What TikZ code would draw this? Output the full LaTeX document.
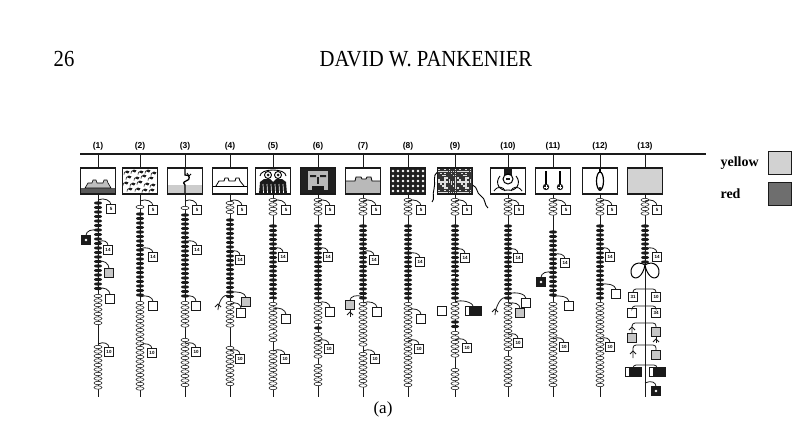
\documentclass[tikz,border=0pt]{standalone}
\usepackage{fontspec}
\setmainfont{Liberation Serif}
\setsansfont{Liberation Sans}
\usepackage{xcolor}
\definecolor{inkDark}{HTML}{1A1A1A}
\definecolor{yellowTone}{HTML}{D2D2D2}
\definecolor{redTone}{HTML}{6E6E6E}
\usepackage{tikz}
\usetikzlibrary{positioning,calc}
\tikzset{%
  cordLine/.style={%
    line width=1pt,
    draw=inkDark
  },
  knotD/.style={%
    fill=inkDark
  },
  knotL/.style={%
    draw=inkDark,
    fill=white,
    line width=0.55pt
  },
  picBox/.style={%
    rectangle,
    draw=inkDark,
    line width=1.1pt,
    minimum width=35pt,
    minimum height=26pt,
    inner sep=0pt
  },
  colLabel/.style={%
    font=\sffamily\bfseries\fontsize{8.5}{9}\selectfont,
    inner sep=1pt
  },
  numTag/.style={%
    rectangle,
    draw=inkDark,
    fill=white,
    line width=0.9pt,
    minimum size=8.5pt,
    inner sep=0pt,
    font=\sffamily\bfseries\fontsize{4.5}{5}\selectfont
  },
  plainTag/.style={numTag},
  grayTag/.style={numTag, fill=gray!45},
  blackTag/.style={%
    numTag,
    fill=inkDark,
    path picture={\fill[white] (path picture bounding box.center) circle (1.4pt);}
  },
  barTag/.style={%
    rectangle,
    draw=inkDark,
    fill=white,
    line width=0.9pt,
    minimum width=16pt,
    minimum height=8.5pt,
    inner sep=0pt,
    path picture={\fill[inkDark] ([xshift=4pt]path picture bounding box.south west) rectangle (path picture bounding box.north east);}
  },
  hookLine/.style={%
    line width=0.8pt,
    draw=inkDark
  },
  bracketLine/.style={%
    draw=inkDark,
    line width=0.8pt,
    double=white,
    double distance=1.3pt
  },
  legendText/.style={%
    font=\bfseries\fontsize{14}{16}\selectfont,
    inner sep=0pt
  },
  swatch/.style={%
    rectangle,
    draw=inkDark,
    line width=1.3pt,
    minimum size=23pt,
    inner sep=0pt
  }
}
\newcommand{\knotrun}[4]{%
  \foreach \i in {1,...,#3}{\path[#4] (#1,{#2+(\i-1)*4.5}) ellipse (4 and 1.7);}}
\newcommand{\forkmark}[2]{%
  \draw[hookLine] (#1-3,#2+3) -- (#1,#2) -- (#1+3,#2+3);}

\begin{document}
\begin{tikzpicture}[x=1pt,y=-1pt]
\useasboundingbox (0,0) rectangle (800,428);

% running head and caption
\node[font=\fontsize{23}{26}\selectfont, xscale=0.9] (pageNo) at (64,59) {26};
\node[font=\fontsize{23}{26}\selectfont, xscale=0.9] (runHead) at (426,59) {DAVID W. PANKENIER};
\node[font=\fontsize{17}{20}\selectfont] (caption) at (383,409) {(a)};

% main cord
\coordinate (barL) at (80,154);
\coordinate (barR) at (706,154);
\draw[line width=1.4pt, inkDark] (barL) -- (barR);

% pictures in the boxes
\begin{scope}[shift={(98,181)}]
  \fill[gray!70!black] (-17.5,7) rectangle (17.5,13);
  \draw[fill=gray!50, line width=0.6pt] (-13,7) -- (-10,2) -- (-6,2) -- (-5,-1) -- (-2,-1) -- (-1,2) -- (5,2) -- (6,-1) -- (9,-1) -- (10,2) -- (13,7) -- cycle;
\end{scope}
\begin{scope}[shift={(140,181)}]
  \foreach \a/\b in {-13/-9,-6/-10,1/-9,8/-10,14/-8,-11/-4,-3/-3,4/-5,11/-3,-14/2,-7/3,0/1,7/3,13/4,-10/8,-2/8,5/9,12/9}{
    \fill[inkDark] (\a-2.5,\b) -- (\a,\b-1.5) -- (\a+2.5,\b-0.5) -- (\a+1,\b+1.5) -- cycle;
    \draw[inkDark, line width=0.6pt] (\a-2.5,\b) -- (\a-3,\b+2.5);}
\end{scope}
\begin{scope}[shift={(185,181)}]
  \fill[gray!40] (-17.5,4) rectangle (17.5,13);
  \draw[line width=1.3pt] (0,-13) -- (0,-6) .. controls (5,-7) and (6,-1) .. (1,0) .. controls (-2,1) and (-2,3) .. (0,4) -- (0,13);
  \draw[line width=0.9pt] (2,-8) -- (4,-5) -- (6,-7);
\end{scope}
\begin{scope}[shift={(230,181)}]
  \draw[line width=0.8pt] (-17.5,5) -- (17.5,5);
  \draw[line width=0.8pt] (-14,5) -- (-11,0) -- (-6,0) -- (-5,-3) -- (-2,-3) -- (-1,0) -- (5,0) -- (6,-3) -- (9,-3) -- (10,0) -- (14,5);
\end{scope}
\begin{scope}[shift={(273,181)}]
  \fill[inkDark] (-14,13) -- (-13,1) -- (-9,-2) -- (-3,-2) -- (0,1) -- (3,-2) -- (9,-2) -- (13,1) -- (14,13) -- cycle;
  \foreach \s in {-10,-6,-2,2,6,10} \draw[white, line width=0.7pt] (\s,3) -- (\s+0.5,12);
  \draw[line width=0.9pt] (-13,-5) .. controls (-13,-13) and (13,-13) .. (13,-5);
  \foreach \s in {-5,5}{\draw[line width=0.9pt, fill=white] (\s,-6) circle (3.5); \fill[inkDark] (\s,-6) circle (1.5);}
\end{scope}
\begin{scope}[shift={(318,181)}]
  \fill[gray!25!black] (-17.5,-13) rectangle (17.5,13);
  \fill[gray!55] (-10,-10) rectangle (10,9);
  \fill[gray!25!black] (-8,-6) rectangle (-2,-4) (2,-6) rectangle (8,-4);
  \fill[gray!25!black] (-1,-4) rectangle (1,3);
  \fill[inkDark] (-6,5) rectangle (6,9);
\end{scope}
\begin{scope}[shift={(363,181)}]
  \fill[gray!55] (-17.5,0) -- (-8,0) -- (-7,-4) -- (-2,-4) -- (-1,-2) -- (3,-2) -- (4,-4) -- (8,-4) -- (9,0) -- (17.5,0) -- (17.5,13) -- (-17.5,13) -- cycle;
  \draw[line width=0.8pt] (-17.5,0) -- (-8,0) -- (-7,-4) -- (-2,-4) -- (-1,-2) -- (3,-2) -- (4,-4) -- (8,-4) -- (9,0) -- (17.5,0);
\end{scope}
\begin{scope}[shift={(408,181)}]
  \fill[gray!25!black] (-17.5,-13) rectangle (17.5,13);
  \foreach \i in {0,...,6}{\foreach \j in {0,...,4}{\fill[white] (-15+\i*5,-10+\j*5) circle (1.3);}}
\end{scope}
\begin{scope}[shift={(455,181)}]
  \fill[black!80] (-17.5,-13) rectangle (17.5,13);
  \foreach \i in {0,...,15}{\foreach \j in {0,...,11}{%
    \pgfmathtruncatemacro\r{mod(\i*7+\j*11+\i*\j*3,5)}%
    \ifnum\r<2 \fill[gray!25] (-17+\i*2.1,-12.5+\j*2.1) rectangle ++(1.6,1.6);\fi}}
  \draw[line width=0.9pt] (-17.5,-9) .. controls (-23,-6) and (-19,2) .. (-21,8) .. controls (-23,14) and (-20,18) .. (-23,21);
  \draw[line width=0.9pt] (17.5,4) .. controls (23,6) and (21,12) .. (26,15) .. controls (31,18) and (29,24) .. (33,27);
\end{scope}
\begin{scope}[shift={(508,181)}]
  \fill[inkDark] (-4,-13) rectangle (4,-6);
  \draw[line width=1pt] (0,-2) circle (5);
  \fill[inkDark] (-2,-3) rectangle (2,-1);
  \draw[line width=0.9pt] (-8,-5) .. controls (-14,2) and (-8,11) .. (0,9) .. controls (8,11) and (14,2) .. (8,-5);
  \draw[line width=0.8pt] (-14,10) .. controls (-10,4) and (-4,6) .. (-3,10);
  \draw[line width=0.8pt] (14,10) .. controls (10,4) and (4,6) .. (3,10);
\end{scope}
\begin{scope}[shift={(553,181)}]
  \foreach \s in {-7,7}{%
    \draw[line width=1.8pt] (\s,-10) -- (\s,4);
    \fill[inkDark] (\s,6) circle (3.2);
    \draw[white, line width=0.6pt] (\s-2,6) -- (\s+2,6) (\s,4) -- (\s,8);}
\end{scope}
\begin{scope}[shift={(600,181)}]
  \draw[line width=1.2pt] (0,-13) -- (0,-9);
  \draw[line width=1.2pt] (0,0) ellipse (3.5 and 9);
  \fill[inkDark] (0,8) circle (2);
\end{scope}
\begin{scope}[shift={(645,181)}]
  \fill[gray!35] (-17.5,-13) rectangle (17.5,13);
\end{scope}

% boxes, labels and pendant cords
\foreach \n/\cx in {1/98,2/140,3/185,4/230,5/273,6/318,7/363,8/408,9/455,10/508,11/553,12/600,13/645}{
  \node[picBox] (box\n) at (\cx,181) {};
  \node[colLabel] (lab\n) at (\cx,146) {(\n)};
  \coordinate (end\n) at (\cx,397);
  \draw[cordLine] (box\n.north) -- (box\n.north |- barL);
  \draw[cordLine] (box\n.south) -- (end\n);
}

% knots
\foreach \cx/\ya/\k/\s in {
  98/203/20/knotD, 98/296/7/knotL, 98/347/10/knotL,
  140/207/1/knotL, 140/214/19/knotD, 140/303/20/knotL,
  185/208/1/knotL, 185/215/19/knotD, 185/303/6/knotL, 185/340/11/knotL,
  230/203/3/knotL, 230/220/18/knotD, 230/303/6/knotL, 230/348/9/knotL,
  273/200/4/knotL, 273/226/17/knotD, 273/304/9/knotL, 273/352/9/knotL,
  318/200/4/knotL, 318/226/17/knotD, 318/304/5/knotL, 318/328/1/knotD, 318/334/6/knotL, 318/366/5/knotL,
  363/200/4/knotL, 363/226/17/knotD, 363/304/10/knotL, 363/354/8/knotL,
  408/200/4/knotL, 408/226/17/knotD, 408/304/19/knotL,
  455/200/4/knotL, 455/226/17/knotD, 455/304/4/knotL, 455/322/2/knotD, 455/333/6/knotL, 455/370/5/knotL,
  508/200/4/knotL, 508/226/17/knotD, 508/304/11/knotL, 508/358/7/knotL,
  553/200/4/knotL, 553/232/15/knotD, 553/304/19/knotL,
  600/200/4/knotL, 600/226/17/knotD, 600/304/19/knotL,
  645/200/4/knotL, 645/226/9/knotD}
  {\knotrun{\cx}{\ya}{\k}{\s}}

% number tags
\foreach \n/\cx/\tx/\ty/\mx/\my in {1/98/111/209/108/250, 2/140/153/210/153/257, 3/185/197/210/197/250,
  4/230/242/210/240/260, 5/273/286/210/283/257, 6/318/330/210/328/257, 7/363/376/210/374/260,
  8/408/421/210/420/262, 9/455/467/210/465/258, 10/508/519/210/518/258, 11/553/566/210/565/263,
  12/600/612/210/610/257, 13/645/657/210/657/257}{
  \coordinate (topA\n) at (\cx,\ty-9);
  \coordinate (midA\n) at (\cx,\my-8);
  \draw[hookLine] (topA\n) .. controls +(6,-3) and +(0,-4) .. (\tx,\ty-4.25);
  \draw[hookLine] (midA\n) .. controls +(6,-3) and +(0,-4) .. (\mx,\my-4.25);
  \node[numTag] (topT\n) at (\tx,\ty) {5};
  \node[numTag] (midT\n) at (\mx,\my) {14};
}
\foreach \n/\cx/\bx/\by in {1/98/109/352, 2/140/152/353, 3/185/196/352, 4/230/240/359, 5/273/285/359,
  6/318/329/349, 7/363/375/359, 8/408/419/349, 9/455/467/348, 10/508/518/343, 11/553/564/347, 12/600/610/347}{
  \coordinate (botA\n) at (\cx,\by-8);
  \draw[hookLine] (botA\n) .. controls +(6,-3) and +(0,-4) .. (\bx,\by-4.25);
  \node[numTag] (botT\n) at (\bx,\by) {10};
}

% other pendants
\node[blackTag] (k1) at (86,240) {};
\coordinate (kA1) at (98,231);
\draw[hookLine] (kA1) .. controls +(-6,-3) and +(0,-4) .. (k1.north);
\node[grayTag] (g1) at (109,273) {};
\coordinate (gA1) at (98,262);
\draw[hookLine] (gA1) .. controls +(6,-3) and +(0,-4) .. (g1.north);
\node[plainTag] (w1) at (110,299) {};
\coordinate (wA1) at (98,289);
\draw[hookLine] (wA1) .. controls +(6,-3) and +(0,-4) .. (w1.north);

\node[plainTag] (w2) at (153,306) {};
\coordinate (wA2) at (140,297);
\draw[hookLine] (wA2) .. controls +(6,-3) and +(0,-4) .. (w2.north);
\node[plainTag] (w3) at (196,306) {};
\coordinate (wA3) at (185,297);
\draw[hookLine] (wA3) .. controls +(6,-3) and +(0,-4) .. (w3.north);

\node[grayTag] (g4) at (246,302) {};
\coordinate (gA4) at (230,293);
\draw[hookLine] (gA4) .. controls +(6,-3) and +(0,-4) .. (g4.north);
\node[plainTag] (w4) at (241,313) {};
\coordinate (wA4) at (230,304);
\draw[hookLine] (wA4) .. controls +(6,-3) and +(0,-4) .. (w4.north);
\coordinate (fA4) at (230,296);
\coordinate (f4) at (218,310);
\draw[hookLine] (fA4) .. controls +(-8,-4) and +(0,-5) .. (f4);
\forkmark{218}{304}

\coordinate (brA5) at (273,300);
\coordinate (brB5) at (273,332);
\draw[bracketLine] (brA5) -| (258,316) |- (brB5);
\node[plainTag] (w5) at (286,319) {};
\coordinate (wA5) at (273,309);
\draw[hookLine] (wA5) .. controls +(6,-3) and +(0,-4) .. (w5.north);

\node[plainTag] (w6) at (330,312) {};
\coordinate (wA6) at (318,303);
\draw[hookLine] (wA6) .. controls +(6,-3) and +(0,-4) .. (w6.north);

\node[grayTag] (g7) at (350,305) {};
\coordinate (gA7) at (363,297);
\draw[hookLine] (gA7) .. controls +(-6,-3) and +(0,-4) .. (g7.north);
\coordinate (f7) at (350,317);
\draw[hookLine] (g7.south) -- (f7);
\forkmark{350}{312}
\node[plainTag] (w7) at (377,312) {};
\coordinate (wA7) at (363,303);
\draw[hookLine] (wA7) .. controls +(6,-3) and +(0,-4) .. (w7.north);

\node[plainTag] (w8) at (421,319) {};
\coordinate (wA8) at (408,310);
\draw[hookLine] (wA8) .. controls +(6,-3) and +(0,-4) .. (w8.north);

\node[plainTag] (w9) at (442,311) {};
\coordinate (brA9) at (455,277);
\draw[bracketLine] (brA9) -| (w9.north);
\node[barTag] (bar9) at (473,311) {};
\coordinate (bA9) at (455,302);
\draw[hookLine] (bA9) .. controls +(6,-3) and +(0,-4) .. (bar9.north);

\node[plainTag] (w10) at (526,303) {};
\coordinate (wA10) at (508,294);
\draw[hookLine] (wA10) .. controls +(8,-3) and +(0,-4) .. (w10.north);
\node[grayTag] (g10) at (520,313) {};
\coordinate (gA10) at (508,304);
\draw[hookLine] (gA10) .. controls +(6,-3) and +(0,-4) .. (g10.north);
\coordinate (fA10) at (508,298);
\coordinate (f10) at (495,315);
\draw[hookLine] (fA10) .. controls +(-8,-4) and +(0,-5) .. (f10);
\forkmark{495}{309}

\node[blackTag] (k11) at (541,282) {};
\coordinate (kA11) at (553,273);
\draw[hookLine] (kA11) .. controls +(-6,-3) and +(0,-4) .. (k11.north);
\node[plainTag] (w11) at (569,306) {};
\coordinate (wA11) at (553,297);
\draw[hookLine] (wA11) .. controls +(6,-3) and +(0,-4) .. (w11.north);

\node[plainTag] (w12) at (616,294) {};
\coordinate (wA12) at (600,285);
\draw[hookLine] (wA12) .. controls +(6,-3) and +(0,-4) .. (w12.north);

% cord (13): bow and paired branches
\draw[line width=1pt, fill=white] (645,265) .. controls (636,259) and (628,268) .. (632,276) .. controls (636,281) and (643,276) .. (645,265);
\draw[line width=1pt, fill=white] (645,265) .. controls (654,259) and (662,268) .. (658,276) .. controls (654,281) and (647,276) .. (645,265);

\coordinate (br1) at (645,289);
\node[numTag] (L1) at (633,297) {31};
\node[numTag] (R1) at (656,297) {10};
\draw[hookLine, rounded corners=3pt] (L1.north) |- (br1) -| (R1.north);

\coordinate (br2) at (645,306);
\node[plainTag] (L2) at (632,313) {};
\node[numTag] (R2) at (656,313) {34};
\draw[hookLine, rounded corners=3pt] (L2.north) |- (br2) -| (R2.north);

\coordinate (br3) at (645,323);
\node[grayTag] (L3) at (632,338) {};
\node[grayTag] (R3) at (656,332) {};
\draw[hookLine, rounded corners=3pt] (L3.north) |- (br3) -| (R3.north);
\forkmark{632}{327}
\coordinate (f3) at (656,343);
\draw[hookLine] (R3.south) -- (f3);
\forkmark{656}{339}

\coordinate (br4) at (645,345);
\coordinate (f4b) at (633,358);
\node[grayTag] (R4) at (656,355) {};
\draw[hookLine, rounded corners=3pt] (f4b) |- (br4) -| (R4.north);
\forkmark{633}{351}

\coordinate (br5) at (645,365);
\node[barTag] (L5) at (633,372) {};
\node[barTag] (R5) at (657,372) {};
\draw[hookLine, rounded corners=3pt] (L5.north) |- (br5) -| (R5.north);

\node[blackTag] (k13) at (656,391) {};
\coordinate (kA13) at (645,383);
\draw[hookLine] (kA13) .. controls +(6,-3) and +(0,-4) .. (k13.north);

% legend
\node[swatch, fill=yellowTone] (yelBox) at (780,163) {};
\node[swatch, fill=redTone] (redBox) at (780,194) {};
\node[legendText, left=9pt of yelBox] (yelText) {yellow};
\node[legendText, anchor=west] (redText) at (yelText.west |- redBox) {red};
\end{tikzpicture}
\end{document}
